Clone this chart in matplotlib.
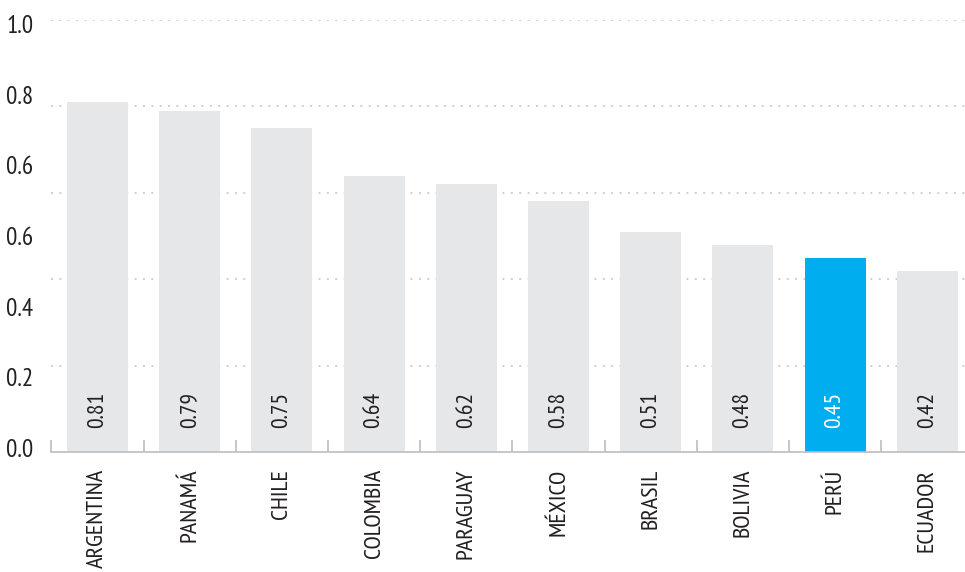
import numpy as np
import matplotlib.pyplot as plt

plt.rcParams['font.family'] = ['PT Sans Narrow', 'DejaVu Sans']

## countries and index values
paises = ['ARGENTINA', 'PANAMÁ', 'CHILE', 'COLOMBIA', 'PARAGUAY',
          'MÉXICO', 'BRASIL', 'BOLIVIA', 'PERÚ', 'ECUADOR']
valores = [0.81, 0.79, 0.75, 0.64, 0.62, 0.58, 0.51, 0.48, 0.45, 0.42]
destacado = 'PERÚ'

## y tick labels as printed in the original (spaced evenly, not on the grid)
y_labels = ['0.0', '0.2', '0.4', '0.6', '0.6', '0.8', '1.0']

gris = '#E6E7E8'
azul = '#00AEEF'
texto = '#231F20'

fig = plt.figure(figsize=(9.65, 5.72), dpi=100)
ax = fig.add_axes([51.4 / 965, 1 - 452 / 572, 1 - 51.4 / 965, 432 / 572])

x = np.arange(len(paises))
colores = [azul if p == destacado else gris for p in paises]
ax.bar(x, valores, width=0.66, color=colores, zorder=2)

for i, v in enumerate(valores):
    c = 'white' if paises[i] == destacado else texto
    ax.text(i, 0.056, f'{v:.2f}', rotation=90, ha='center', va='bottom',
            fontsize=17, color=c, zorder=3)

## dotted grid
for g in [0.2, 0.4, 0.6, 0.8, 1.0]:
    ax.axhline(g, color='#CDCFD1', lw=1.4, ls=(0, (1, 3.3)), zorder=1)

for s in ['top', 'right', 'left']:
    ax.spines[s].set_visible(False)
ax.spines['bottom'].set_color('#BCBEC0')
ax.spines['bottom'].set_linewidth(1.2)

ax.set_xticks(x)
ax.set_xticklabels(paises, rotation=90, fontsize=17.5, color=texto, va='top', ha='center')
ax.set_xticks(np.arange(-0.5, len(paises), 1.0), minor=True)
ax.tick_params(axis='x', which='major', length=0, pad=12)
ax.tick_params(axis='x', which='minor', direction='in', length=9, color='#BCBEC0', width=1.2)

ax.set_yticks(np.linspace(0.01, 0.99, 7))
ax.set_yticklabels(y_labels, fontsize=18, color=texto)
ax.tick_params(axis='y', length=0, pad=13)

# limits last, set_xticks would widen them otherwise
ax.set_xlim(-0.5, (965 - 51.4) / 92.2 - 0.5)
ax.set_ylim(0, 1.0)

fig.savefig('out.png', dpi=100)
